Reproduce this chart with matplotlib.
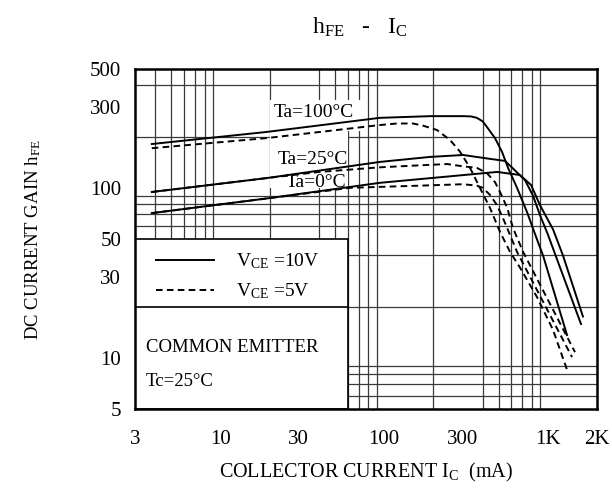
import matplotlib
matplotlib.use('Agg')
import matplotlib.pyplot as plt
from matplotlib.patches import Rectangle
from matplotlib.lines import Line2D
from matplotlib.ticker import FixedLocator, LogLocator, NullFormatter
import numpy as np

plt.rcParams['font.family'] = ['Liberation Serif', 'DejaVu Serif']
plt.rcParams['mathtext.fontset'] = 'custom'
plt.rcParams['mathtext.rm'] = 'Liberation Serif'
plt.rcParams['mathtext.it'] = 'Liberation Serif:italic'

# ---------------- data ----------------
ic_100_10v = [3.8, 19, 94, 191, 304, 340, 369, 400, 425, 476, 525, 572, 649, 747, 871, 936, 1312]
hfe_100_10v = [181, 213, 258, 264, 264, 263, 258, 246, 228, 196, 163, 131, 100, 72, 48, 40, 13.6]

ic_100_5v = [3.8, 19, 94, 120, 150, 173, 210, 253, 291, 335, 385, 444, 511, 588, 676, 859, 1077, 1312]
hfe_100_5v = [171, 196, 234, 239, 239, 232, 219, 191, 163, 131, 100, 76, 55, 42, 34, 22.8, 14.6, 8.5]

ic_25_10v = [3.8, 19, 94, 191, 304, 444, 548, 623, 726, 812, 897, 1003, 1139, 1597]
hfe_25_10v = [94.5, 114, 142, 152, 156, 148, 144, 128, 111, 90, 69, 53, 38, 15.8]

ic_25_5v = [3.8, 19, 40, 94, 149, 243, 300, 369, 425, 476, 511, 566, 613, 707, 1467]
hfe_25_5v = [94.5, 114, 124, 132, 135, 138, 134, 131, 122, 108, 94.5, 76, 58, 42, 10.8]

ic_0_10v = [3.8, 19, 94, 490, 676, 790, 897, 1077, 1239, 1641]
hfe_0_10v = [71, 86.5, 107, 124, 119, 104, 79, 57, 40, 17.5]

ic_0_5v = [3.8, 19, 62, 166, 304, 369, 400, 444, 490, 532, 588, 649, 1407]
hfe_0_5v = [71, 86.5, 100, 103, 105, 103, 100, 90.8, 79, 66.5, 52.8, 42, 10.1]

x_ticks = [3, 10, 30, 100, 300, 1000, 2000]
x_tick_labels = ['3', '10', '30', '100', '300', '1K', '2K']
y_ticks = [5, 10, 30, 50, 100, 300, 500]
y_tick_labels = ['5', '10', '30', '50', '100', '300', '500']

temp_labels = ['Ta=100°C', 'Ta=25°C', 'Ta=0°C']
temp_label_x = [21, 22.4, 25.1]
temp_label_y = [277, 146, 107]

# ---------------- figure ----------------
W, H = 612, 497
fig = plt.figure(figsize=(W / 100, H / 100), dpi=100)
ax = fig.add_axes([135 / W, 1 - 409 / H, 462 / W, 340 / H])
ax.set_xscale('log')
ax.set_yscale('log')
ax.set_xlim(3, 2000)
ax.set_ylim(5, 500)

ax.xaxis.set_major_locator(FixedLocator(x_ticks))
ax.set_xticklabels(x_tick_labels)
ax.yaxis.set_major_locator(FixedLocator(y_ticks))
ax.set_yticklabels(y_tick_labels)
for a in (ax.xaxis, ax.yaxis):
    a.set_minor_locator(LogLocator(base=10, subs=np.arange(1, 10), numticks=60))
    a.set_minor_formatter(NullFormatter())
ax.tick_params(which='both', length=0, labelsize=15)
ax.tick_params(axis='x', pad=15)
ax.tick_params(axis='y', pad=10)
ax.set_axisbelow(True)
ax.grid(False, which='major')
ax.grid(True, which='minor', color='#3a3a3a', lw=0.9)
for s in ax.spines.values():
    s.set_linewidth(1.8)

# white boxes (label area and legend area)
ax.add_patch(Rectangle((20, 100), 40, 230, facecolor='white', edgecolor='none', zorder=1))
ax.add_patch(Rectangle((60, 215), 15, 115, facecolor='white', edgecolor='none', zorder=1))
ax.add_patch(Rectangle((3, 5), 57, 45, facecolor='white', edgecolor='black', lw=1.2, zorder=1))
ax.add_line(Line2D([3, 60], [20, 20], color='black', lw=1.2, zorder=1.1))

solid = dict(color='black', lw=1.4, zorder=3)
dashed = dict(color='black', lw=1.4, ls=(0, (3.4, 2.2)), zorder=3)
ax.plot(ic_100_10v, hfe_100_10v, **solid)
ax.plot(ic_25_10v, hfe_25_10v, **solid)
ax.plot(ic_0_10v, hfe_0_10v, **solid)
ax.plot(ic_100_5v, hfe_100_5v, **dashed)
ax.plot(ic_25_5v, hfe_25_5v, **dashed)
ax.plot(ic_0_5v, hfe_0_5v, **dashed)

for t, x, y in zip(temp_labels, temp_label_x, temp_label_y):
    ax.text(x, y, t, fontsize=14, ha='left', va='center', zorder=4)

handles = [Line2D([], [], **solid), Line2D([], [], **dashed)]
leg = ax.legend(handles, [r'V$_\mathrm{CE}$ =10V', r'V$_\mathrm{CE}$ =5V'],
                loc='center left', bbox_to_anchor=(0.045, 0.39), frameon=False,
                fontsize=14, handlelength=3.0, handletextpad=1.1, labelspacing=0.55,
                borderpad=0, borderaxespad=0)
leg.set_zorder(5)

ax.text(0.024, 0.18, 'COMMON EMITTER', transform=ax.transAxes, fontsize=13.5,
        ha='left', va='center', zorder=4)
ax.text(0.024, 0.08, 'Tc=25°C', transform=ax.transAxes, fontsize=13.5,
        ha='left', va='center', zorder=4)

fig.text(360 / W, 1 - 27 / H, r'$\mathrm{h_{FE}}$   -   $\mathrm{I_C}$', fontsize=17,
         ha='center', va='center')
fig.text(366 / W, 1 - 472 / H, r'COLLECTOR CURRENT I$_\mathrm{C}$  (mA)', fontsize=14.5,
         ha='center', va='center')
fig.text(33 / W, 1 - 240 / H, r'DC CURRENT GAIN h$_\mathrm{FE}$', fontsize=13.5,
         ha='center', va='center', rotation=90)

fig.savefig('out.png', dpi=100)
